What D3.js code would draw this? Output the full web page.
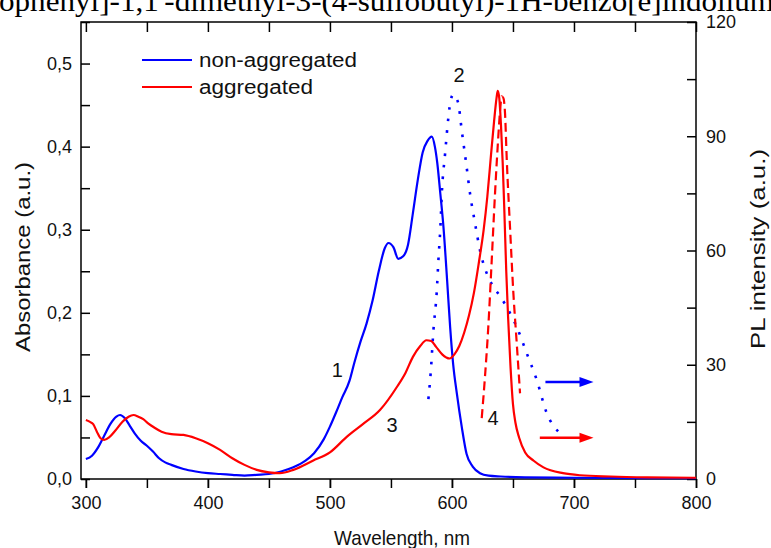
<!DOCTYPE html>
<html>
<head>
<meta charset="utf-8">
<script src="https://cdn.jsdelivr.net/npm/d3@7"></script>
<style>
  body { margin: 0; background: #fff; }
  svg { display: block; font-family: "Liberation Sans", Arial, sans-serif; }
</style>
</head>
<body>
<svg width="771" height="548"></svg>
<script>
// curve 1: non-aggregated absorbance (left axis)
var absBlueNm = [300, 305, 310, 315, 320, 325, 328, 332, 336, 340, 345, 350, 355, 360, 365, 370, 380, 390, 400, 410, 420, 430, 440, 450, 460, 470, 480, 487, 495, 500, 505, 510, 516, 520, 525, 530, 535, 540, 545, 548, 552, 556, 560, 564, 568, 572, 576, 580, 583.5, 586, 588, 590.5, 593, 596, 598.5, 601, 604, 608, 612, 617, 623, 630, 640, 660, 700, 800];
var absBlueVal = [0.024, 0.028, 0.038, 0.052, 0.066, 0.075, 0.077, 0.073, 0.064, 0.055, 0.046, 0.040, 0.033, 0.025, 0.020, 0.017, 0.012, 0.009, 0.007, 0.006, 0.005, 0.004, 0.005, 0.006, 0.009, 0.014, 0.022, 0.031, 0.048, 0.063, 0.080, 0.098, 0.118, 0.140, 0.165, 0.187, 0.215, 0.250, 0.278, 0.284, 0.279, 0.265, 0.268, 0.282, 0.320, 0.360, 0.393, 0.407, 0.412, 0.400, 0.380, 0.343, 0.304, 0.240, 0.183, 0.138, 0.103, 0.063, 0.030, 0.015, 0.007, 0.004, 0.003, 0.002, 0.0015, 0.001];

// curve 3: aggregated absorbance (left axis)
var absRedNm = [300, 303, 306, 309, 312, 315, 319, 324, 330, 335, 339, 343, 347, 351, 356, 362, 370, 380, 390, 400, 410, 420, 430, 440, 450, 459, 470, 486, 500, 514, 527, 541, 555, 562, 568, 574, 579, 583, 587, 592, 598, 602, 606, 610, 614, 618, 622, 626, 629, 632, 634.5, 636.5, 637.5, 638.8, 640.2, 641.6, 643, 644.5, 646, 648, 650, 652, 655, 660, 667, 675, 691, 705, 730, 760, 800];
var absRedVal = [0.071, 0.069, 0.066, 0.057, 0.049, 0.047, 0.050, 0.058, 0.069, 0.075, 0.077, 0.075, 0.072, 0.067, 0.062, 0.057, 0.054, 0.053, 0.049, 0.043, 0.035, 0.025, 0.017, 0.011, 0.008, 0.007, 0.011, 0.022, 0.032, 0.051, 0.066, 0.083, 0.111, 0.128, 0.147, 0.160, 0.167, 0.166, 0.159, 0.150, 0.145, 0.150, 0.160, 0.176, 0.197, 0.224, 0.260, 0.300, 0.340, 0.390, 0.430, 0.458, 0.467, 0.458, 0.425, 0.380, 0.320, 0.250, 0.195, 0.135, 0.090, 0.068, 0.050, 0.032, 0.022, 0.014, 0.007, 0.0045, 0.003, 0.002, 0.0015];

// curve 2: non-aggregated PL (right axis)
var plBlueNm = [580.7, 582.6, 584.8, 587.5, 588.9, 590.5, 591.7, 594.4, 597.1, 599, 601.2, 603.5, 605.3, 608, 612, 614.8, 619, 623, 629.8, 635, 639.4, 646.2, 653, 661.3, 669.5, 677.7, 687.2];
var plBlueVal = [21, 28, 39, 49, 57.5, 66, 75, 85.5, 95, 99.5, 101, 100, 98.5, 91.6, 82, 75, 67, 60, 53, 50, 48, 44.4, 40, 33, 26, 17.3, 12.4];

// curve 4: aggregated PL (right axis)
var plRedNm = [624.4, 627.1, 629.8, 632.6, 635.3, 638, 639.5, 640.8, 642.2, 643.5, 644.9, 647.6, 650.3, 653.1, 655.8];
var plRedVal = [16, 27, 40, 57.5, 75, 90, 97, 100.5, 100, 96, 84, 66, 49, 35.6, 22.5];

// curve number labels: [text, nm, value, axis]
var curveLabels = [
  ["1", 506, 0.131, "left"],
  ["2", 605.8, 106, "right"],
  ["3", 551, 0.065, "left"],
  ["4", 633.7, 16, "right"]
];

// arrows pointing to the right axis: [fromNm, toNm, plValue, colour]
var arrows = [
  [676.6, 716, 25.5, "#0000ff"],
  [672, 716, 10.8, "#ff0000"]
];

var legendItems = ["non-aggregated", "aggregated"];
var legendColors = ["#0000ff", "#ff0000"];

var svg = d3.select("svg");

var x = d3.scaleLinear().domain([296, 800]).range([81, 696]);
var yL = d3.scaleLinear().domain([0, 0.55]).range([479, 22]);
var yR = d3.scaleLinear().domain([0, 120]).range([479, 22]);

// header text, cut off at the top
svg.append("text")
  .attr("x", -1)
  .attr("y", 11)
  .attr("textLength", 775)
  .attr("lengthAdjust", "spacingAndGlyphs")
  .style("font-family", "'Liberation Serif', 'Times New Roman', serif")
  .style("font-size", "29px")
  .text("ophenyl]-1,1'-dimethyl-3-(4-sulfobutyl)-1H-benzo[e]indolium");

// frame
svg.append("rect")
  .attr("x", 81).attr("y", 22)
  .attr("width", 696 - 81).attr("height", 479 - 22)
  .attr("fill", "none").attr("stroke", "#000").attr("stroke-width", 1.5);

// AXES
function styleAxis(g) {
  g.select(".domain").remove();
  g.selectAll("line").attr("stroke", "#000").attr("stroke-width", 1.5);
  g.selectAll("text").attr("fill", "#111").style("font-size", "18px");
}

var xMinor = d3.range(300, 801, 50);
var xMajor = d3.range(300, 801, 100);

svg.append("g")
  .attr("transform", "translate(0,479)")
  .call(d3.axisBottom(x).tickValues(xMinor).tickSize(9).tickFormat(""))
  .call(styleAxis);
svg.append("g")
  .attr("transform", "translate(0,479)")
  .call(d3.axisBottom(x).tickValues(xMajor).tickSize(9).tickPadding(8).tickFormat(d3.format("d")))
  .call(styleAxis);

// top ticks point inward
svg.append("g")
  .attr("transform", "translate(0,22)")
  .call(d3.axisTop(x).tickValues(xMinor).tickSize(-10).tickFormat(""))
  .call(styleAxis);

// left axis, inward ticks
svg.append("g")
  .attr("transform", "translate(81,0)")
  .call(d3.axisLeft(yL).tickValues(d3.range(0, 0.551, 0.05)).tickSize(-9).tickFormat(""))
  .call(styleAxis);
svg.append("g")
  .attr("transform", "translate(81,0)")
  .call(d3.axisLeft(yL).tickValues(d3.range(0, 0.51, 0.1)).tickSize(0).tickPadding(9)
    .tickFormat(function(d) { return d3.format(".1f")(d).replace(".", ","); }))
  .call(styleAxis);

// right axis, inward ticks
svg.append("g")
  .attr("transform", "translate(696,0)")
  .call(d3.axisRight(yR).tickValues(d3.range(0, 121, 15)).tickSize(-9).tickFormat(""))
  .call(styleAxis);
svg.append("g")
  .attr("transform", "translate(696,0)")
  .call(d3.axisRight(yR).tickValues(d3.range(0, 121, 30)).tickSize(0).tickPadding(10))
  .call(styleAxis);

// axis titles
svg.append("text")
  .attr("transform", "translate(30,257) rotate(-90)")
  .attr("text-anchor", "middle")
  .attr("textLength", 190)
  .attr("lengthAdjust", "spacingAndGlyphs")
  .style("font-size", "21px")
  .attr("fill", "#111")
  .text("Absorbance (a.u.)");

svg.append("text")
  .attr("transform", "translate(765,249) rotate(-90)")
  .attr("text-anchor", "middle")
  .attr("textLength", 200)
  .attr("lengthAdjust", "spacingAndGlyphs")
  .style("font-size", "21px")
  .attr("fill", "#111")
  .text("PL intensity (a.u.)");

svg.append("text")
  .attr("x", 402).attr("y", 545)
  .attr("text-anchor", "middle")
  .attr("textLength", 136)
  .attr("lengthAdjust", "spacingAndGlyphs")
  .style("font-size", "21px")
  .attr("fill", "#111")
  .text("Wavelength, nm");

// CURVES
function drawCurve(nm, vals, yScale, color, dash) {
  var pts = nm.map(function(d, i) { return [d, vals[i]]; });
  var line = d3.line()
    .x(function(d) { return x(d[0]); })
    .y(function(d) { return yScale(d[1]); })
    .curve(d3.curveMonotoneX);
  var p = svg.append("path")
    .datum(pts)
    .attr("d", line)
    .attr("fill", "none")
    .attr("stroke", color)
    .attr("stroke-width", 2.2);
  if (dash) p.attr("stroke-dasharray", dash);
  return p;
}

drawCurve(plBlueNm, plBlueVal, yR, "#0000ff", "2.6,9").attr("stroke-width", 2.6);
drawCurve(plRedNm, plRedVal, yR, "#ff0000", "9,5");
drawCurve(absBlueNm, absBlueVal, yL, "#0000ff");
drawCurve(absRedNm, absRedVal, yL, "#ff0000");

// curve numbers
curveLabels.forEach(function(d) {
  var ys = d[3] == "left" ? yL : yR;
  svg.append("text")
    .attr("x", x(d[1])).attr("y", ys(d[2]))
    .attr("text-anchor", "middle")
    .attr("dy", "0.35em")
    .style("font-size", "20px")
    .attr("fill", "#111")
    .text(d[0]);
});

// arrows
arrows.forEach(function(a) {
  var x0 = x(a[0]), x1 = x(a[1]), yy = yR(a[2]);
  svg.append("line")
    .attr("x1", x0).attr("x2", x1 - 12)
    .attr("y1", yy).attr("y2", yy)
    .attr("stroke", a[3]).attr("stroke-width", 2.5);
  svg.append("path")
    .attr("d", "M" + x1 + "," + yy + "L" + (x1 - 14) + "," + (yy - 5) + "L" + (x1 - 14) + "," + (yy + 5) + "Z")
    .attr("fill", a[3]);
});

// legend
var legendWidths = [158, 114];
legendItems.forEach(function(name, i) {
  var ly = 60 + i * 27;
  svg.append("line")
    .attr("x1", 142).attr("x2", 192)
    .attr("y1", ly).attr("y2", ly)
    .attr("stroke", legendColors[i]).attr("stroke-width", 2.2);
  svg.append("text")
    .attr("x", 199).attr("y", ly)
    .attr("dy", "0.35em")
    .attr("textLength", legendWidths[i])
    .attr("lengthAdjust", "spacingAndGlyphs")
    .style("font-size", "20px")
    .attr("fill", "#111")
    .text(name);
});
</script>
</body>
</html>
